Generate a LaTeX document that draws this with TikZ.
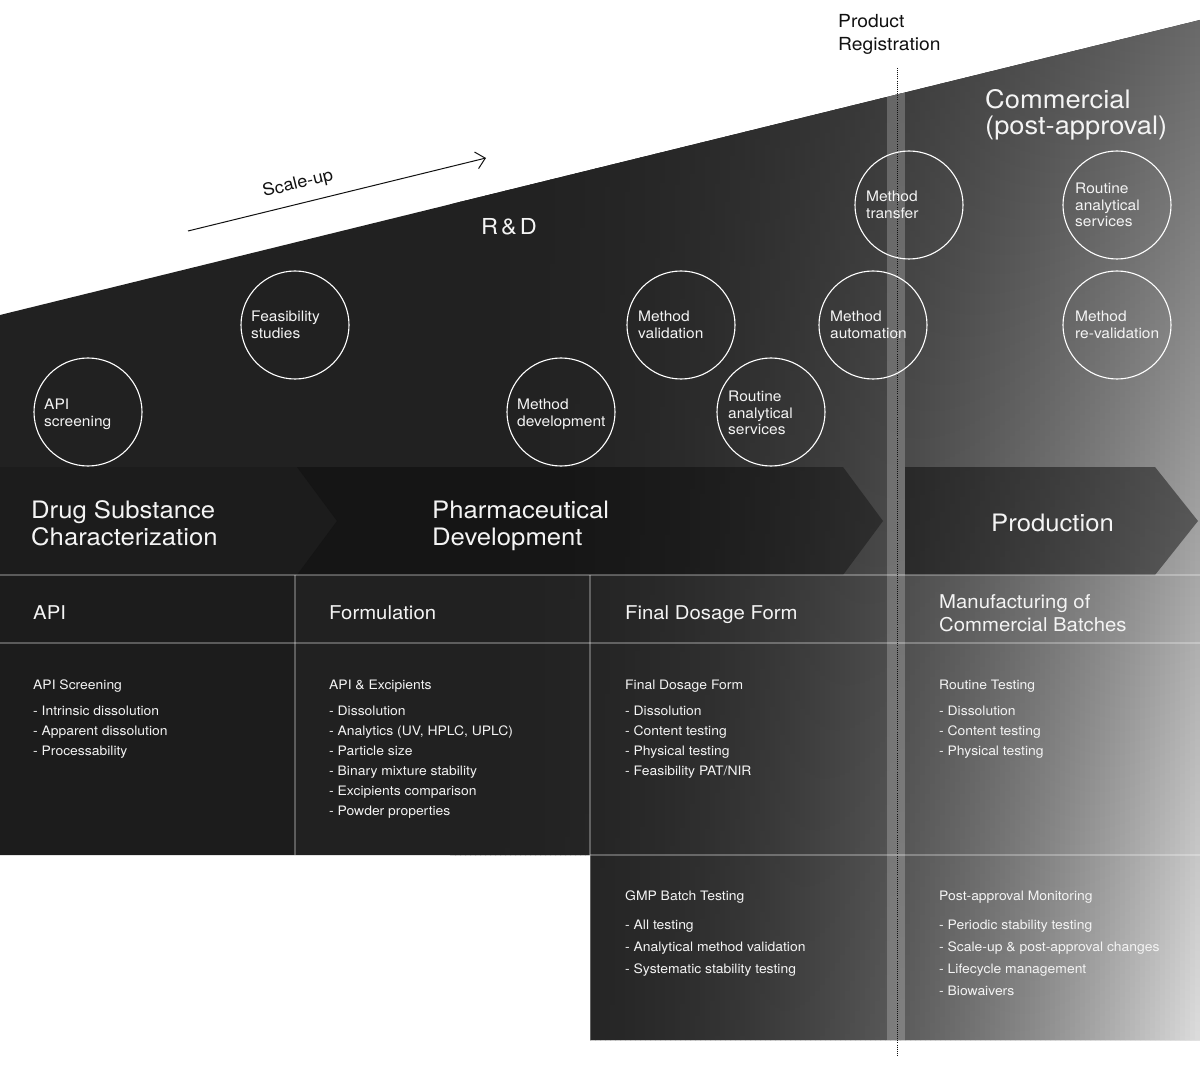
\documentclass[tikz,border=0pt]{standalone}
\usepackage{fontspec}
\setmainfont{TeX Gyre Heros}[FakeStretch=1.07]
\usetikzlibrary{arrows.meta}
\definecolor{basedark}{HTML}{212121}
\definecolor{txt}{HTML}{F4F4F4}
\definecolor{ink}{HTML}{111111}
\begin{document}
\begin{tikzpicture}[x=1pt,y=-1pt,
  bubble/.style={circle,draw=white,line width=1.1pt,minimum size=108pt,inner sep=0pt},
  bubtext/.style={anchor=north west,inner sep=0pt,align=left,text=txt,font=\fontsize{14.5}{16.5}\selectfont},
  chevtext/.style={anchor=north west,inner sep=0pt,align=left,text=txt,font=\fontsize{24}{27}\selectfont},
  headtext/.style={anchor=north west,inner sep=0pt,align=left,text=txt,font=\fontsize{19}{23}\selectfont},
  listtext/.style={anchor=north west,inner sep=0pt,align=left,text=txt,font=\fontsize{13}{20}\selectfont},
  listtextb/.style={anchor=north west,inner sep=0pt,align=left,text=txt,font=\fontsize{13}{22}\selectfont},
  gridline/.style={draw=white,draw opacity=.28,line width=1.1pt}
]
\useasboundingbox (0,0) rectangle (1200,1075);
\fill[white] (0,0) rectangle (1200,1075);

\begin{scope}
\clip (0,315) -- (1200,20) -- (1200,1040) -- (590,1040) -- (590,855) -- (0,855) -- cycle;
\fill[basedark] (0,0) rectangle (1200,1075);
\foreach \i in {0,...,149} {
  \pgfmathsetmacro\xa{450+5*\i}
  \pgfmathsetmacro\s{max(0.001,(\xa+2.5-450)/750)}
  \pgfmathsetmacro\tv{(33+72*\s^2)/255}
  \pgfmathsetmacro\bv{(33+188*\s^2.3)/255}
  \definecolor{ctop}{gray}{\tv}
  \definecolor{cbot}{gray}{\bv}
  \shade[top color=ctop,bottom color=cbot] (\xa,20) rectangle (\xa+6,1040);
}
% chevrons
\fill[black,opacity=.15] (0,467) -- (297,467) -- (337,521) -- (297,575) -- (0,575) -- cycle;
\fill[black,opacity=.35] (297,467) -- (843,467) -- (883,521) -- (843,575) -- (297,575) -- (337,521) -- cycle;
\fill[black,opacity=.45] (905,467) -- (1155,467) -- (1198,521) -- (1155,575) -- (905,575) -- cycle;
\fill[black,opacity=.12] (0,575) rectangle (295,855);
% registration stripe
\fill[white,opacity=.22] (887,0) rectangle (905,1075);
\end{scope}

% grid lines
\draw[gridline] (0,575) -- (1200,575);
\draw[gridline] (0,643) -- (1200,643);
\draw[gridline] (590,855) -- (1200,855);
\draw[gridline] (295,575) -- (295,855);
\draw[gridline] (590,575) -- (590,1040);

% dotted registration line
\coordinate (d1) at (897,68);
\coordinate (d2) at (897,1057);
\draw[ink,line width=.9pt,dash pattern=on .9pt off 1.2pt] (d1) -- (d2);

% scale-up arrow
\coordinate (a1) at (188,231);
\coordinate (a2) at (486,158);
\draw[ink,line width=1pt,-{Straight Barb[length=9pt,width=17pt]}] (a1) -- (a2);
\node[ink,rotate=13.8,font=\fontsize{17}{19}\selectfont,inner sep=0pt] (scale) at (298,184) {Scale-up};

% top labels
\node[anchor=north west,inner sep=0pt,align=left,text=ink,font=\fontsize{18}{23}\selectfont] (reg) at (838,14) {Product\\Registration};
\node[anchor=north west,inner sep=0pt,align=left,text=txt,font=\fontsize{25.5}{26}\selectfont] (comm) at (985,89) {Commercial\\(post-approval)};
\node[anchor=north west,inner sep=0pt,text=txt,font=\fontsize{22}{24}\selectfont] (rd) at (481,218.5) {R\kern3pt\&\kern3pt D};

% bubbles
\node[bubble] (b1) at (88,412) {};
\node[bubtext] (b1t) at (44,399) {API\\screening};
\node[bubble] (b2) at (295,325) {};
\node[bubtext] (b2t) at (251,311) {Feasibility\\studies};
\node[bubble] (b3) at (561,412) {};
\node[bubtext] (b3t) at (517,399) {Method\\development};
\node[bubble] (b4) at (681,325) {};
\node[bubtext] (b4t) at (638,311) {Method\\validation};
\node[bubble] (b5) at (771,412) {};
\node[bubtext] (b5t) at (728,391) {Routine\\analytical\\services};
\node[bubble] (b6) at (873,325) {};
\node[bubtext] (b6t) at (830,311) {Method\\automation};
\node[bubble] (b7) at (909,205) {};
\node[bubtext] (b7t) at (866,191) {Method\\transfer};
\node[bubble] (b8) at (1117,205) {};
\node[bubtext] (b8t) at (1075,183) {Routine\\analytical\\services};
\node[bubble] (b9) at (1117,325) {};
\node[bubtext] (b9t) at (1075,311) {Method\\re-validation};

% chevron labels
\node[chevtext] (ch1) at (31,500.5) {Drug Substance\\Characterization};
\node[chevtext] (ch2) at (432,500.5) {Pharmaceutical\\Development};
\node[chevtext] (ch3) at (991,513.5) {Production};

% headers
\node[headtext] (h1) at (33,605) {API};
\node[headtext] (h2) at (329,605) {Formulation};
\node[headtext] (h3) at (625,605) {Final Dosage Form};
\node[headtext] (h4) at (939,594) {Manufacturing of\\Commercial Batches};

% content
\node[listtext] (l1) at (33,680) {API Screening\\[6pt]- Intrinsic dissolution\\- Apparent dissolution\\- Processability};
\node[listtext] (l2) at (329,680) {API \& Excipients\\[6pt]- Dissolution\\- Analytics (UV, HPLC, UPLC)\\- Particle size\\- Binary mixture stability\\- Excipients comparison\\- Powder properties};
\node[listtext] (l3) at (625,680) {Final Dosage Form\\[6pt]- Dissolution\\- Content testing\\- Physical testing\\- Feasibility PAT/NIR};
\node[listtext] (l4) at (939,680) {Routine Testing\\[6pt]- Dissolution\\- Content testing\\- Physical testing};
\node[listtextb] (l5) at (625,891) {GMP Batch Testing\\[7pt]- All testing\\- Analytical method validation\\- Systematic stability testing};
\node[listtextb] (l6) at (939,891) {Post-approval Monitoring\\[7pt]- Periodic stability testing\\- Scale-up \& post-approval changes\\- Lifecycle management\\- Biowaivers};
\end{tikzpicture}
\end{document}
